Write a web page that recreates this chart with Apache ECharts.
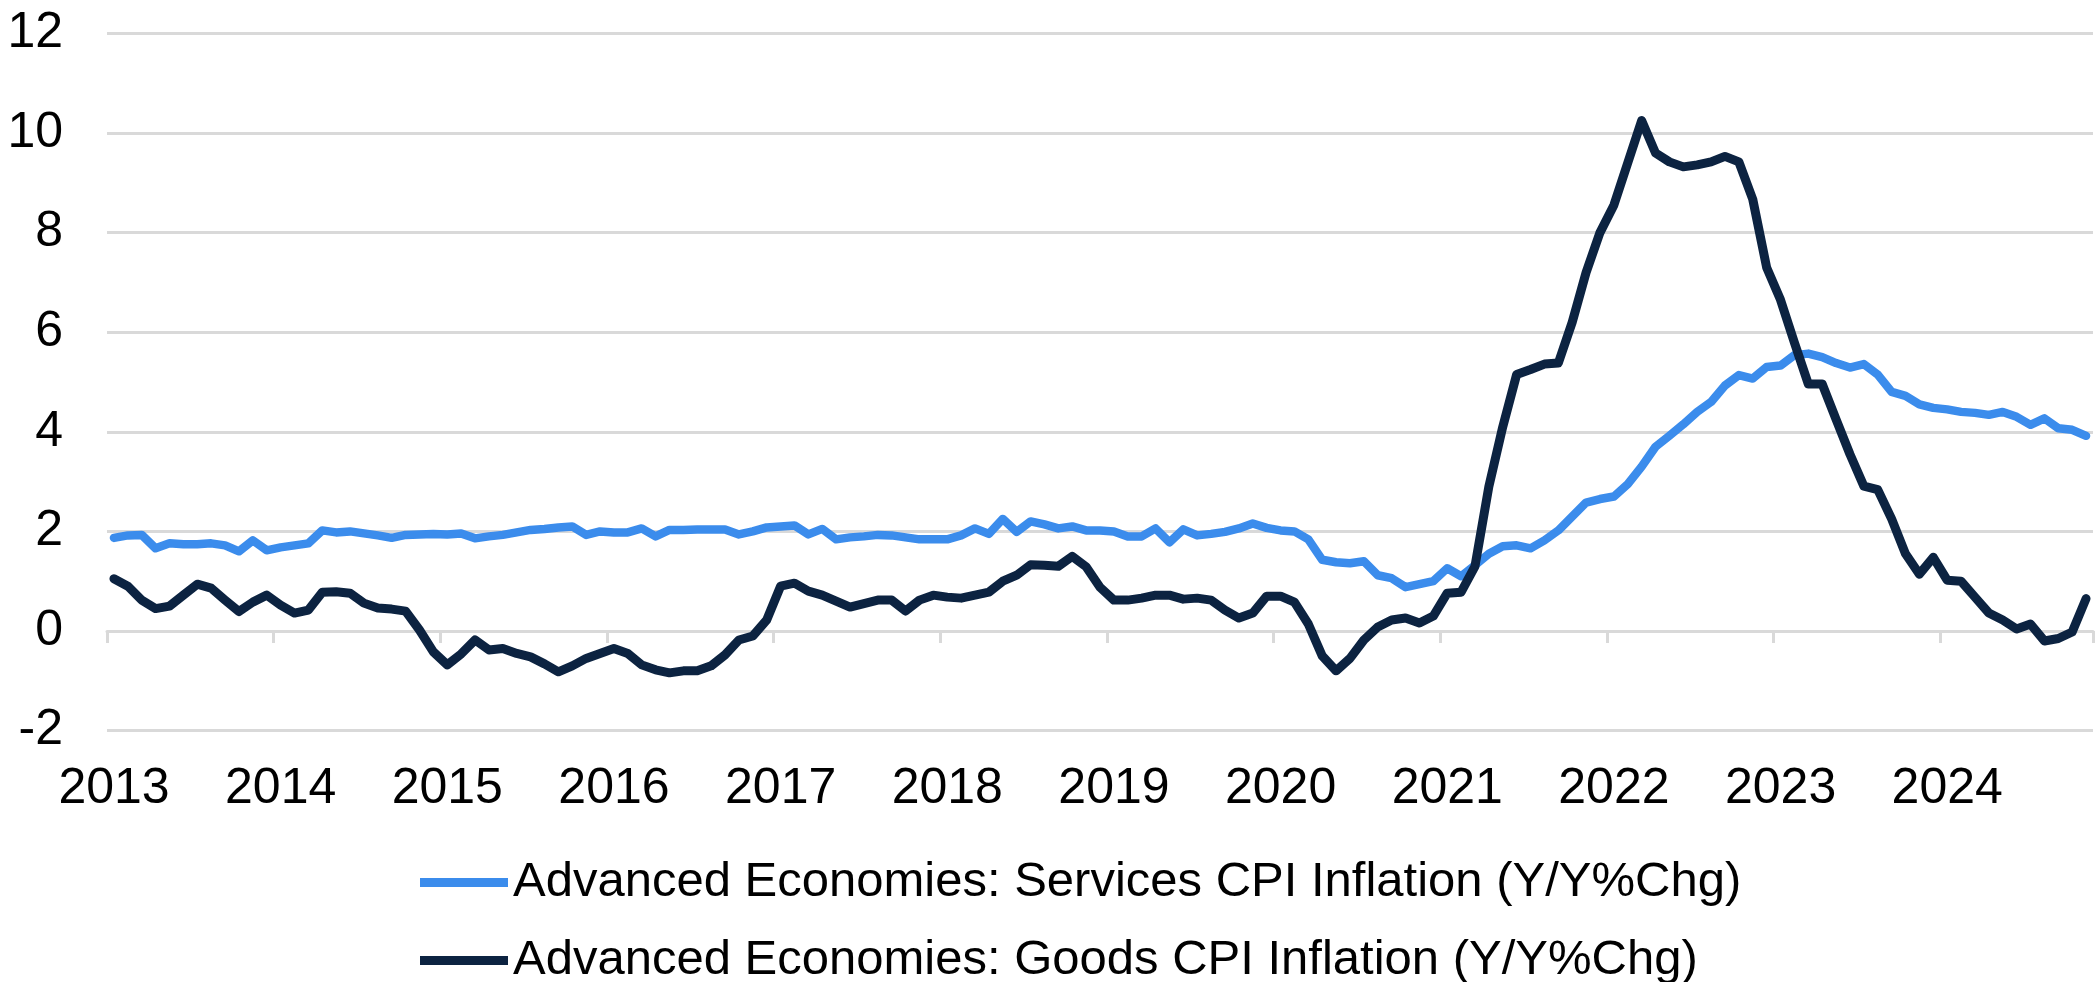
<!DOCTYPE html>
<html>
<head>
<meta charset="utf-8">
<title>Advanced Economies CPI Inflation</title>
<style>
  html, body { margin: 0; padding: 0; background: #ffffff; }
  #chart { width: 2096px; height: 982px; }
</style>
<script src="https://cdn.jsdelivr.net/npm/echarts@6/dist/echarts.min.js"></script>
</head>
<body>
<div id="chart"></div>
<script>
// Monthly year-over-year % change, Jan 2013 to Nov 2024
const startYear = 2013;
const yearLabels = [2013, 2014, 2015, 2016, 2017, 2018, 2019, 2020, 2021, 2022, 2023, 2024];
const yTicks = [-2, 0, 2, 4, 6, 8, 10, 12];

const servicesName = 'Advanced Economies: Services CPI Inflation (Y/Y%Chg)';
const goodsName = 'Advanced Economies: Goods CPI Inflation (Y/Y%Chg)';

const servicesCpi = [
  1.87, 1.92, 1.93, 1.66, 1.76, 1.74, 1.74, 1.76, 1.72, 1.60, 1.82, 1.62,   // 2013
  1.68, 1.72, 1.76, 2.02, 1.98, 2.00, 1.96, 1.92, 1.87, 1.93, 1.94, 1.95,   // 2014
  1.94, 1.96, 1.86, 1.90, 1.93, 1.98, 2.03, 2.05, 2.08, 2.10, 1.93, 2.00,   // 2015
  1.98, 1.98, 2.06, 1.90, 2.03, 2.03, 2.04, 2.04, 2.04, 1.94, 2.00, 2.08,   // 2016
  2.10, 2.12, 1.94, 2.05, 1.84, 1.88, 1.90, 1.93, 1.92, 1.88, 1.84, 1.84,   // 2017
  1.84, 1.92, 2.06, 1.95, 2.25, 1.99, 2.20, 2.14, 2.06, 2.10, 2.02, 2.02,   // 2018
  2.00, 1.90, 1.90, 2.06, 1.78, 2.04, 1.92, 1.95, 1.99, 2.06, 2.16, 2.07,   // 2019
  2.02, 2.00, 1.84, 1.43, 1.38, 1.36, 1.40, 1.12, 1.06, 0.88, 0.94, 1.00,   // 2020
  1.26, 1.10, 1.32, 1.55, 1.70, 1.72, 1.66, 1.82, 2.02, 2.30, 2.58, 2.65,   // 2021
  2.70, 2.95, 3.30, 3.70, 3.92, 4.15, 4.40, 4.60, 4.93, 5.14, 5.07, 5.30,   // 2022
  5.33, 5.54, 5.57, 5.50, 5.38, 5.29, 5.36, 5.15, 4.80, 4.72, 4.55, 4.48,   // 2023
  4.45, 4.40, 4.38, 4.34, 4.40, 4.30, 4.14, 4.27, 4.07, 4.04, 3.92          // 2024
];

const goodsCpi = [
  1.05, 0.90, 0.62, 0.45, 0.50, 0.72, 0.94, 0.86, 0.62, 0.39, 0.58, 0.72,   // 2013
  0.52, 0.36, 0.42, 0.78, 0.79, 0.76, 0.56, 0.46, 0.44, 0.40, 0.02, -0.42,  // 2014
  -0.68, -0.46, -0.18, -0.38, -0.35, -0.45, -0.52, -0.66, -0.82, -0.70, -0.55, -0.45, // 2015
  -0.35, -0.45, -0.68, -0.78, -0.84, -0.80, -0.80, -0.70, -0.48, -0.18, -0.10, 0.22,  // 2016
  0.90, 0.96, 0.80, 0.72, 0.60, 0.48, 0.55, 0.62, 0.62, 0.40, 0.62, 0.72,   // 2017
  0.68, 0.66, 0.72, 0.78, 1.00, 1.12, 1.33, 1.32, 1.30, 1.50, 1.29, 0.88,   // 2018
  0.62, 0.62, 0.66, 0.72, 0.72, 0.64, 0.66, 0.62, 0.42, 0.26, 0.36, 0.70,   // 2019
  0.70, 0.58, 0.14, -0.50, -0.80, -0.55, -0.18, 0.08, 0.22, 0.26, 0.16, 0.30, // 2020
  0.76, 0.78, 1.30, 2.90, 4.10, 5.15, 5.25, 5.36, 5.38, 6.20, 7.20, 8.00,   // 2021
  8.55, 9.40, 10.25, 9.60, 9.42, 9.32, 9.36, 9.42, 9.53, 9.42, 8.67, 7.30,  // 2022
  6.65, 5.79, 4.96, 4.96, 4.25, 3.55, 2.91, 2.84, 2.25, 1.55, 1.14, 1.48,   // 2023
  1.02, 1.00, 0.68, 0.36, 0.22, 0.04, 0.14, -0.20, -0.15, -0.02, 0.65       // 2024
];

// Observations are placed at mid-month on a continuous year scale
function monthlyPoints(values) {
  return values.map(function (v, i) { return [startYear + (i + 0.5) / 12, v]; });
}

const monthPx = 13.95;
const axisEnd = startYear + 143 / 12;

const gridGray = '#d9d9d9';
const textFont = '"Liberation Sans", Arial, Helvetica, sans-serif';
const servicesColor = '#3b8cec';
const goodsColor = '#0c2341';

function legendRow(name, top) {
  return {
    orient: 'vertical',
    left: 420,
    top: top,
    padding: 0,
    itemWidth: 88,
    itemHeight: 9,
    icon: 'rect',
    selectedMode: false,
    textStyle: {
      fontFamily: textFont,
      fontSize: 49,
      lineHeight: 40,
      color: '#000000'
    },
    data: [name]
  };
}

const chart = echarts.init(document.getElementById('chart'), null, { renderer: 'canvas' });

chart.setOption({
  animation: false,
  backgroundColor: '#ffffff',
  textStyle: { fontFamily: textFont },
  grid: {
    left: 107,
    top: 33.4,
    width: 143 * monthPx,
    height: 697.2,
    containLabel: false
  },
  legend: [legendRow(servicesName, 858), legendRow(goodsName, 936)],
  xAxis: [
    {
      // zero line with the year tick marks hanging below it
      type: 'value',
      min: startYear,
      max: axisEnd,
      interval: 1,
      position: 'bottom',
      axisLine: { show: true, onZero: true, lineStyle: { color: gridGray, width: 3 } },
      axisTick: { show: true, inside: false, length: 12, lineStyle: { color: gridGray, width: 3 } },
      axisLabel: { show: false },
      splitLine: { show: false }
    },
    {
      // year labels along the bottom of the plot
      type: 'value',
      min: startYear,
      max: axisEnd,
      interval: 1,
      position: 'bottom',
      axisLine: { show: false, onZero: false },
      axisTick: { show: false },
      splitLine: { show: false },
      axisLabel: {
        show: true,
        margin: 34,
        padding: [0, 0, 0, 14],
        fontFamily: textFont,
        fontSize: 50,
        color: '#000000',
        formatter: function (v) {
          const y = Math.round(v);
          return (Math.abs(v - y) < 1e-6 && yearLabels.indexOf(y) >= 0) ? String(y) : '';
        }
      }
    }
  ],
  yAxis: {
    type: 'value',
    min: yTicks[0],
    max: yTicks[yTicks.length - 1],
    interval: 2,
    axisLine: { show: false },
    axisTick: { show: false },
    axisLabel: {
      margin: 44,
      fontFamily: textFont,
      fontSize: 50,
      color: '#000000'
    },
    splitLine: { show: true, lineStyle: { color: gridGray, width: 3 } }
  },
  series: [
    {
      name: servicesName,
      type: 'line',
      xAxisIndex: 0,
      data: monthlyPoints(servicesCpi),
      showSymbol: false,
      symbol: 'none',
      color: servicesColor,
      lineStyle: { color: servicesColor, width: 8.5, cap: 'round', join: 'round' },
      z: 3
    },
    {
      name: goodsName,
      type: 'line',
      xAxisIndex: 0,
      data: monthlyPoints(goodsCpi),
      showSymbol: false,
      symbol: 'none',
      color: goodsColor,
      lineStyle: { color: goodsColor, width: 9, cap: 'round', join: 'round' },
      z: 4
    }
  ]
});
</script>
</body>
</html>
